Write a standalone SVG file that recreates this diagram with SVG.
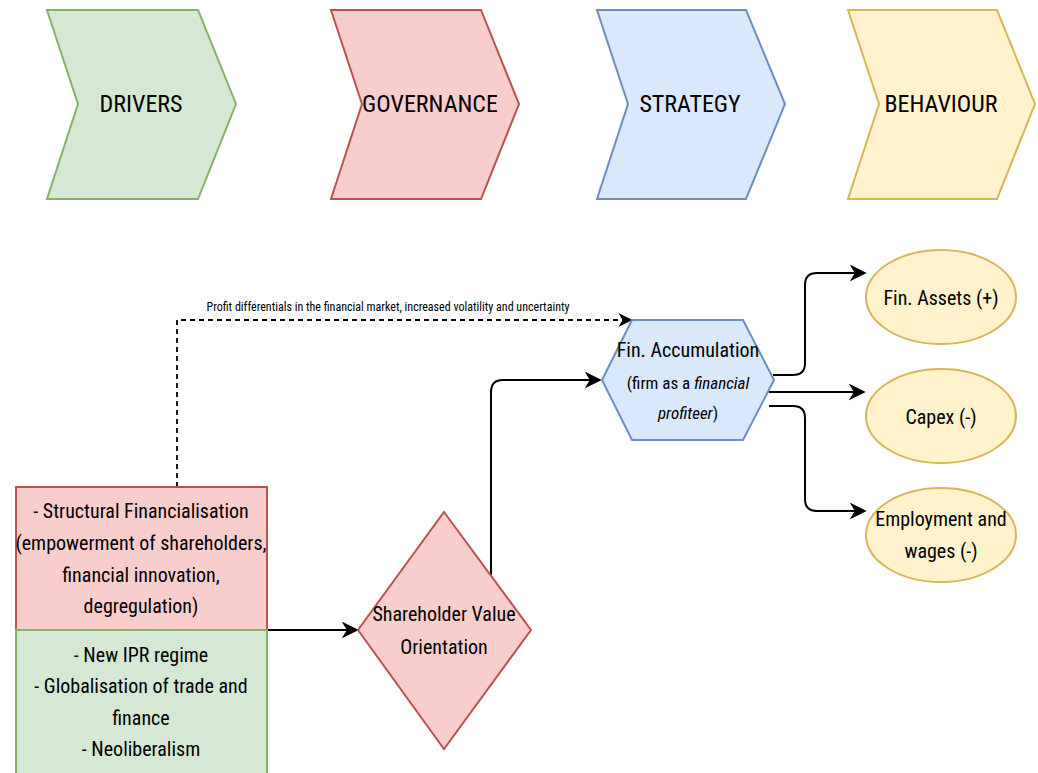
<svg xmlns="http://www.w3.org/2000/svg" width="1038" height="773" viewBox="0 0 1038 773">
<defs>
<style>
text{font-family:"Liberation Sans Narrow","Arial Narrow","Roboto Condensed","Liberation Sans",sans-serif;fill:#000;text-anchor:middle}
.h{font-size:24px}
.t{font-size:20px}
.s{font-size:12px}
.g{fill:#d5e8d4;stroke:#82b366;stroke-width:2}
.r{fill:#f8cecc;stroke:#b85450;stroke-width:2}
.b{fill:#dae8fc;stroke:#6c8ebf;stroke-width:2}
.y{fill:#fff2cc;stroke:#d6b656;stroke-width:2}
.c{fill:none;stroke:#000;stroke-width:2}
.d{fill:none;stroke:#000;stroke-width:1.8;stroke-dasharray:5 4}
</style>
<marker id="A" viewBox="0 0 10 10" refX="9" refY="5" markerWidth="17" markerHeight="17" markerUnits="userSpaceOnUse" orient="auto"><path d="M0,0 L10,5 L0,10 L3,5 Z" fill="#000"/></marker>
<marker id="a" viewBox="0 0 10 10" refX="9" refY="5" markerWidth="14" markerHeight="14" markerUnits="userSpaceOnUse" orient="auto"><path d="M0,0 L10,5 L0,10 L3,5 Z" fill="#000"/></marker>
</defs>
<rect width="1038" height="773" fill="#fff"/>
<g id="drivers"><polygon class="g" points="47,10 198,10 236,104 198,199 47,199 78,104"/><text class="h" x="141" y="112">DRIVERS</text></g>
<g id="governance"><polygon class="r" points="331,10 481,10 519,104 481,199 331,199 362,104"/><text class="h" x="430" y="112">GOVERNANCE</text></g>
<g id="strategy"><polygon class="b" points="597,10 746,10 785,104 746,199 597,199 628,104"/><text class="h" x="690" y="112">STRATEGY</text></g>
<g id="behaviour"><polygon class="y" points="848,10 997,10 1035,104 997,199 848,199 879,104"/><text class="h" x="941" y="112">BEHAVIOUR</text></g>
<g id="connectors">
<path class="d" d="M177,487 V320 H631" marker-end="url(#a)"/>
<text class="s" x="388" y="311">Profit differentials in the financial market, increased volatility and uncertainty</text>
<path class="c" d="M267,630 H357" marker-end="url(#A)"/>
<path class="c" d="M491,575 V392 Q491,380 503,380 H600" marker-end="url(#A)"/>
<path class="c" d="M773,375 H793 Q805,375 805,363 V285 Q805,273 817,273 H865" marker-end="url(#A)"/>
<path class="c" d="M769,392 H864" marker-end="url(#A)"/>
<path class="c" d="M769,406 H793 Q805,406 805,418 V499 Q805,511 817,511 H865" marker-end="url(#A)"/>
</g>
<g id="structural"><rect class="r" x="16" y="487" width="251" height="143"/><text class="t"><tspan x="141" y="518">- Structural Financialisation</tspan><tspan x="141" y="550">(empowerment of shareholders,</tspan><tspan x="141" y="582">financial innovation,</tspan><tspan x="141" y="613">degregulation)</tspan></text></g>
<g id="ipr"><rect class="g" x="16" y="630" width="251" height="150"/><text class="t"><tspan x="141" y="662">- New IPR regime</tspan><tspan x="141" y="693">- Globalisation of trade and</tspan><tspan x="141" y="725">finance</tspan><tspan x="141" y="756">- Neoliberalism</tspan></text></g>
<g id="shareholder"><polygon class="r" points="444,512 531,630 444,749 358,630"/><text class="t"><tspan x="444" y="621">Shareholder Value</tspan><tspan x="444" y="654">Orientation</tspan></text></g>
<g id="finacc"><polygon class="b" points="602,380 632,320 743,320 774,380 743,440 632,440"/><text class="t" x="688" y="357">Fin. Accumulation</text><text style="font-size:17px" x="688" y="389">(firm as a <tspan font-style="italic">financial</tspan></text><text style="font-size:17px" x="688" y="419"><tspan font-style="italic">profiteer</tspan>)</text></g>
<g id="finassets"><ellipse class="y" cx="941" cy="297" rx="75" ry="47"/><text class="t" x="941" y="305">Fin. Assets (+)</text></g>
<g id="capex"><ellipse class="y" cx="941" cy="416" rx="75" ry="47"/><text class="t" x="941" y="424">Capex (-)</text></g>
<g id="employment"><ellipse class="y" cx="941" cy="535" rx="75" ry="47"/><text class="t"><tspan x="941" y="526">Employment and</tspan><tspan x="941" y="558">wages (-)</tspan></text></g>
</svg>
